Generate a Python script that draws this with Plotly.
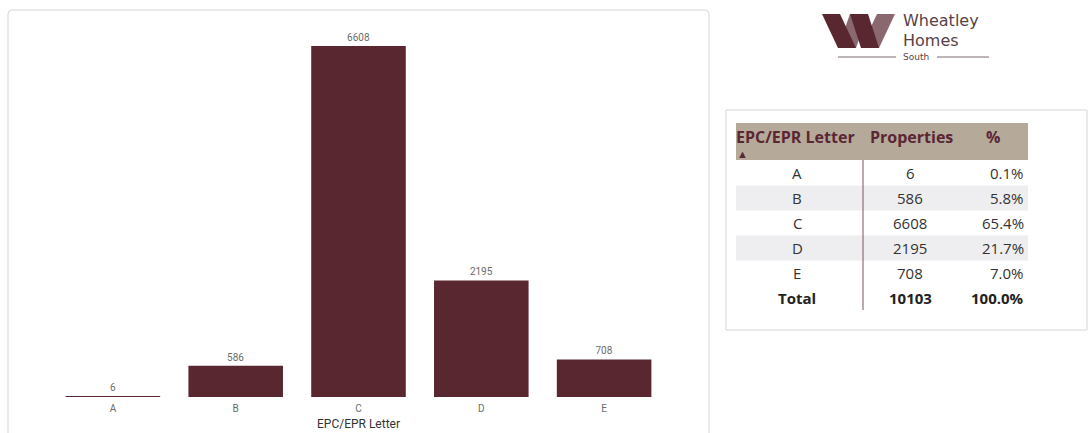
import plotly.graph_objects as go

# ---- data ----
letters = ["A", "B", "C", "D", "E"]
properties = [6, 586, 6608, 2195, 708]
total_label = "Total"

W, H = 1089, 433
BAR_COLOR = "#58272f"
MAUVE = "#8a6870"

def px(x):
    return x / W

def py(y):
    return 1 - y / H

fig = go.Figure()

fig.add_trace(go.Bar(
    x=letters, y=properties, marker=dict(color=BAR_COLOR, line=dict(width=0)),
    text=[str(v) for v in properties], textposition="outside",
    textfont=dict(size=10, color="#6b6b6b", family="Liberation Sans Narrow, Roboto, sans-serif"),
    cliponaxis=False, hoverinfo="x+y",
))

fig.update_layout(
    width=W, height=H, margin=dict(l=0, r=0, t=0, b=0),
    paper_bgcolor="white", plot_bgcolor="white", showlegend=False, bargap=0.23,
    xaxis=dict(domain=[px(51.5), px(665.5)], showgrid=False, zeroline=False, showline=False,
               ticks="", ticklabelstandoff=4,
               tickfont=dict(size=10, color="#6b6b6b", family="Liberation Sans Narrow, Roboto, sans-serif"),
               title=dict(text="EPC/EPR Letter", standoff=6,
                          font=dict(size=12, color="#333333", family="Roboto, sans-serif"))),
    yaxis=dict(domain=[py(397), py(30)], range=[0, 6909], visible=False),
)

shapes = []
# chart card
shapes.append(dict(type="path", xref="paper", yref="paper",
                   path=f"M {px(8)},{py(450)} L {px(8)},{py(14)} Q {px(8)},{py(10)} {px(12)},{py(10)} "
                        f"L {px(705)},{py(10)} Q {px(709)},{py(10)} {px(709)},{py(14)} L {px(709)},{py(450)}",
                   line=dict(color="#d6d6d6", width=1)))
# table card
shapes.append(dict(type="rect", xref="paper", yref="paper", x0=px(726), x1=px(1087), y0=py(330), y1=py(110),
                   line=dict(color="#d6d6d6", width=1), fillcolor="white", layer="below"))
# header background
shapes.append(dict(type="rect", xref="paper", yref="paper", x0=px(736), x1=px(1028), y0=py(160), y1=py(123),
                   line=dict(width=0), fillcolor="#b5a999", layer="below"))

row_y = [173 + 25 * i for i in range(len(letters))]
for i, yy in enumerate(row_y):
    if i % 2 == 1:
        shapes.append(dict(type="rect", xref="paper", yref="paper", x0=px(736), x1=px(1028),
                           y0=py(yy + 12.5), y1=py(yy - 12.5), line=dict(width=0),
                           fillcolor="#eeedef", layer="below"))
# vertical divider
shapes.append(dict(type="line", xref="paper", yref="paper", x0=px(863), x1=px(863), y0=py(160), y1=py(310),
                   line=dict(color="#7a5560", width=1)))

# logo W
def poly(pts, color):
    p = "M " + " L ".join(f"{px(a)},{py(b)}" for a, b in pts) + " Z"
    return dict(type="path", xref="paper", yref="paper", path=p, fillcolor=color, line=dict(width=0))

shapes.append(poly([(838, 48), (856, 48), (868, 14), (850, 14)], MAUVE))
shapes.append(poly([(861, 48), (879, 48), (895, 14), (877, 14)], MAUVE))
shapes.append(poly([(822, 14), (840, 14), (856, 48), (838, 48)], BAR_COLOR))
shapes.append(poly([(850, 14), (868, 14), (879, 48), (861, 48)], BAR_COLOR))
# logo lines around "South"
shapes.append(dict(type="line", xref="paper", yref="paper", x0=px(838), x1=px(896), y0=py(57), y1=py(57),
                   line=dict(color="#7a6a70", width=1)))
shapes.append(dict(type="line", xref="paper", yref="paper", x0=px(937), x1=px(989), y0=py(57), y1=py(57),
                   line=dict(color="#7a6a70", width=1)))

fig.update_layout(shapes=shapes)

ann = []
def text(x, y, s, size, color, xanchor="center", bold=False, family="Open Sans, sans-serif"):
    ann.append(dict(x=px(x), y=py(y), xref="paper", yref="paper", text=(f"<b>{s}</b>" if bold else s),
                    showarrow=False, xanchor=xanchor, yanchor="middle", borderpad=0,
                    font=dict(size=size, color=color, family=family)))

# logo text
text(902, 21, "Wheatley", 16, "#5a3f47", xanchor="left", family="DejaVu Sans, sans-serif")
text(902, 40, "Homes", 16, "#5a3f47", xanchor="left", family="DejaVu Sans, sans-serif")
text(916, 57, "South", 9, "#5a3f47", family="DejaVu Sans, sans-serif")

# table header
HC = "#5b2634"
text(735, 137, "EPC/EPR Letter", 16, HC, xanchor="left", bold=True)
text(869, 137, "Properties", 16, HC, xanchor="left", bold=True)
text(993, 137, "%", 16, HC, bold=True)
text(742, 153, "▲", 11, HC)

total = sum(properties)
for i, yy in enumerate(row_y):
    text(797, yy, letters[i], 15, "#333333")
    text(910, yy, str(properties[i]), 15, "#333333")
    text(1025, yy, f"{properties[i] / total * 100:.1f}%", 15, "#333333", xanchor="right")
ty = row_y[-1] + 25
text(797, ty, total_label, 15, "#222222", bold=True)
text(910, ty, str(total), 15, "#222222", bold=True)
text(1025, ty, "100.0%", 15, "#222222", xanchor="right", bold=True)

fig.update_layout(annotations=ann)
fig.write_html("out.html", config={"displayModeBar": False},
               post_script="document.body.style.margin='0';document.body.style.overflow='hidden';")
